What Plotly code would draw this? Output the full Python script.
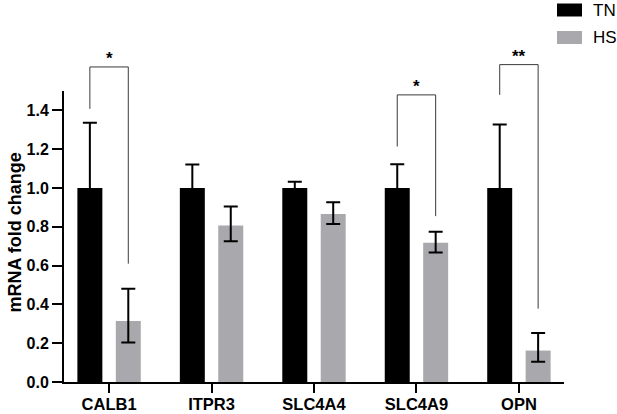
import plotly.graph_objects as go

# ---------------- data ----------------
genes = ["CALB1", "ITPR3", "SLC4A4", "SLC4A9", "OPN"]
tn_mean = [1.0, 1.0, 1.0, 1.0, 1.0]
tn_err = [0.336, 0.121, 0.032, 0.122, 0.327]
hs_mean = [0.315, 0.807, 0.866, 0.718, 0.162]
hs_err_plus = [0.166, 0.097, 0.060, 0.057, 0.091]
hs_err_minus = [0.112, 0.082, 0.052, 0.051, 0.058]
y_ticks = [0.0, 0.2, 0.4, 0.6, 0.8, 1.0, 1.2, 1.4]

# significance brackets: gene index, bracket top, left leg end, right leg end, label
sig_gene = [0, 3, 4]
sig_top = [1.624, 1.480, 1.636]
sig_left_end = [1.408, 1.214, 1.480]
sig_right_end = [0.610, 0.855, 0.378]
sig_label = ["*", "*", "**"]

# ---------------- layout constants ----------------
W, H = 617, 414
ML, MR, MT, MB = 64, 53, 91, 32
PW, PH = W - ML - MR, H - MT - MB
XMIN, XMAX = -0.44, 4.44
YMIN, YMAX = 0.0, 1.5
BARGAP = 0.25
BARGROUPGAP = 0.35
OFF = (1 - BARGAP) / 4  # center offset of each bar in a group

FONT = "Arial, Liberation Sans, Helvetica, sans-serif"
GRAY = "#a9a9ad"

def xp(x):  # data x -> paper
    return (x - XMIN) / (XMAX - XMIN)

def yp(y):  # data y -> paper
    return (y - YMIN) / (YMAX - YMIN)

def pxx(px):  # pixel x -> paper
    return (px - ML) / PW

def pxy(py):  # pixel y -> paper
    return (MT + PH - py) / PH

xs = list(range(len(genes)))

fig = go.Figure()
fig.add_trace(go.Bar(
    x=xs, y=tn_mean, name="TN",
    marker=dict(color="#000000", line=dict(width=0)),
    error_y=dict(type="data", array=tn_err, symmetric=True,
                 color="#000000", thickness=2, width=7),
))
fig.add_trace(go.Bar(
    x=xs, y=hs_mean, name="HS",
    marker=dict(color=GRAY, line=dict(width=0)),
    error_y=dict(type="data", array=hs_err_plus, arrayminus=hs_err_minus,
                 symmetric=False, color="#000000", thickness=2, width=7),
))

shapes = []
annotations = []
for g, top, le, re, lab in zip(sig_gene, sig_top, sig_left_end, sig_right_end, sig_label):
    xl = xp(g - OFF)
    xr = xp(g + OFF)
    path = f"M{xl},{yp(le)} L{xl},{yp(top)} L{xr},{yp(top)} L{xr},{yp(re)}"
    shapes.append(dict(type="path", xref="paper", yref="paper", path=path,
                       line=dict(color="#3a3a3a", width=1)))
    annotations.append(dict(x=xp(g), y=yp(top), xref="paper", yref="paper",
                            text=f"<b>{lab}</b>", showarrow=False, xanchor="center",
                            yanchor="bottom", yshift=-3,
                            font=dict(family=FONT, size=17, color="#000000")))

# legend drawn manually
legend_items = [("TN", "#000000", 3.5, 16.5), ("HS", GRAY, 31, 44)]
for name, col, y0, y1 in legend_items:
    shapes.append(dict(type="rect", xref="paper", yref="paper",
                       x0=pxx(557), x1=pxx(582), y0=pxy(y1), y1=pxy(y0),
                       fillcolor=col, line=dict(width=0)))
    annotations.append(dict(x=pxx(591), y=pxy((y0 + y1) / 2), xref="paper", yref="paper",
                            text=name, showarrow=False, xanchor="left", yanchor="middle",
                            font=dict(family=FONT, size=17, color="#000000")))

# y axis title
annotations.append(dict(x=pxx(14), y=pxy(232.5), xref="paper", yref="paper",
                        text="<b>mRNA fold change</b>", showarrow=False, textangle=-90,
                        xanchor="center", yanchor="middle",
                        font=dict(family=FONT, size=18, color="#000000")))

fig.update_layout(
    width=W, height=H,
    margin=dict(l=ML, r=MR, t=MT, b=MB, pad=0, autoexpand=False),
    paper_bgcolor="white", plot_bgcolor="white",
    barmode="group", bargap=BARGAP, bargroupgap=BARGROUPGAP,
    showlegend=False,
    shapes=shapes, annotations=annotations,
    xaxis=dict(range=[XMIN, XMAX], tickmode="array", tickvals=xs,
               ticktext=[f"<b>{g}</b>" for g in genes],
               showline=True, linecolor="#000000", linewidth=2,
               ticks="outside", ticklen=9, tickwidth=2, tickcolor="#000000",
               ticklabelstandoff=-3, automargin=False,
               showgrid=False, zeroline=False,
               tickfont=dict(family=FONT, size=16.5, color="#000000")),
    yaxis=dict(range=[YMIN, YMAX], tickmode="array", tickvals=y_ticks,
               ticktext=[f"<b>{v:.1f}</b>" for v in y_ticks],
               showline=True, linecolor="#000000", linewidth=2,
               ticks="outside", ticklen=10, tickwidth=2, tickcolor="#000000",
               automargin=False,
               showgrid=False, zeroline=False,
               tickfont=dict(family=FONT, size=16, color="#000000")),
)

fig.write_html("out.html")
